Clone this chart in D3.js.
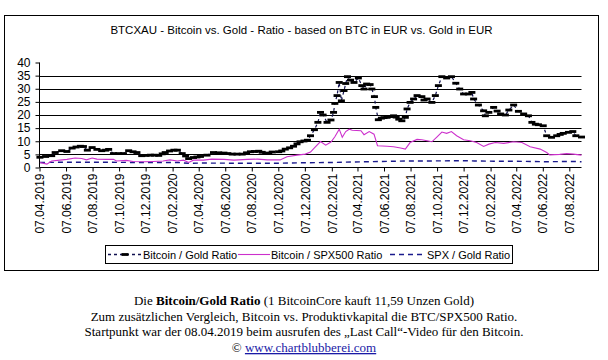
<!DOCTYPE html>
<html><head><meta charset="utf-8">
<script src="https://cdn.jsdelivr.net/npm/d3@7"></script>
<style>body{margin:0;background:#fff}svg{display:block}</style>
</head><body>
<script>
// ---------- DATA ----------
const titleText = "BTCXAU - Bitcoin vs. Gold - Ratio - based on BTC in EUR vs. Gold in EUR";
const seriesNames = ["Bitcoin / Gold Ratio", "Bitcoin / SPX500 Ratio", "SPX / Gold Ratio"];
const yTicks = [0, 5, 10, 15, 20, 25, 30, 35, 40];
const xTickLabels = ["07.04.2019","07.06.2019","07.08.2019","07.10.2019","07.12.2019","07.02.2020","07.04.2020","07.06.2020","07.08.2020","07.10.2020","07.12.2020","07.02.2021","07.04.2021","07.06.2021","07.08.2021","07.10.2021","07.12.2021","07.02.2022","07.04.2022","07.06.2022","07.08.2022"];

const btcGoldDates = ["2019-04-08","2019-04-21","2019-05-05","2019-05-13","2019-05-28","2019-06-09","2019-06-21","2019-06-30","2019-07-10","2019-07-17","2019-07-26","2019-08-06","2019-08-17","2019-08-28","2019-09-06","2019-09-13","2019-09-24","2019-10-06","2019-10-17","2019-10-29","2019-11-08","2019-11-17","2019-11-28","2019-12-08","2019-12-18","2019-12-27","2020-01-06","2020-01-14","2020-01-21","2020-01-31","2020-02-10","2020-02-18","2020-02-29","2020-03-08","2020-03-15","2020-03-26","2020-04-03","2020-04-11","2020-04-26","2020-05-11","2020-05-23","2020-06-04","2020-06-13","2020-06-23","2020-07-04","2020-07-16","2020-07-26","2020-08-04","2020-08-13","2020-08-23","2020-08-31","2020-09-08","2020-09-15","2020-09-23","2020-10-08","2020-10-15","2020-10-23","2020-11-02","2020-11-11","2020-11-19","2020-11-26","2020-12-05","2020-12-13","2020-12-20","2020-12-29","2021-01-06","2021-01-12","2021-01-18","2021-01-27","2021-02-05","2021-02-11","2021-02-14","2021-02-19","2021-02-24","2021-03-01","2021-03-07","2021-03-11","2021-03-15","2021-03-22","2021-03-30","2021-04-09","2021-04-17","2021-04-22","2021-04-28","2021-05-06","2021-05-10","2021-05-16","2021-05-19","2021-05-25","2021-06-01","2021-06-07","2021-06-14","2021-06-22","2021-06-29","2021-07-05","2021-07-11","2021-07-18","2021-07-26","2021-07-30","2021-08-06","2021-08-14","2021-08-22","2021-09-02","2021-09-07","2021-09-14","2021-09-25","2021-10-03","2021-10-10","2021-10-18","2021-10-29","2021-11-09","2021-11-19","2021-11-28","2021-12-07","2021-12-18","2021-12-26","2021-12-30","2022-01-10","2022-01-22","2022-01-26","2022-02-03","2022-02-14","2022-02-22","2022-03-02","2022-03-13","2022-03-21","2022-04-01","2022-04-12","2022-04-24","2022-05-05","2022-05-13","2022-05-21","2022-05-28","2022-06-08","2022-06-16","2022-06-27","2022-07-09","2022-07-17","2022-07-24","2022-08-05","2022-08-15","2022-08-22","2022-09-04"];
const btcGoldValues = [3.9,4.2,4.5,5.7,6.4,6.1,7.4,7.8,8.1,8.0,6.6,7.6,6.9,6.4,6.6,6.9,5.3,5.3,5.3,6.4,6.0,5.7,4.5,4.6,4.7,4.7,4.6,5.2,5.7,6.3,6.6,6.6,5.3,4.4,3.4,3.8,4.0,4.2,4.7,5.7,5.6,5.5,5.3,5.1,5.1,5.1,5.6,6.0,6.1,6.2,5.8,5.3,5.5,5.9,6.0,6.3,7.0,7.5,8.1,9.0,9.8,10.1,10.4,12.1,14.4,17.2,21.0,20.0,17.2,18.1,21.0,24.4,27.4,32.4,25.4,29.3,32.0,34.6,33.3,32.4,34.1,31.2,29.9,31.8,31.6,29.9,27.0,22.9,18.2,18.8,19.0,19.1,19.4,19.7,19.2,18.4,17.8,19.1,22.3,24.8,26.1,27.4,27.0,25.7,26.1,24.8,27.4,31.2,34.6,34.1,34.6,32.1,29.9,28.0,28.0,28.6,26.1,23.8,21.6,19.7,21.0,22.9,21.5,20.4,20.0,21.9,23.8,21.4,20.4,19.7,17.2,16.5,16.3,15.9,12.1,11.5,12.1,12.6,13.0,13.4,13.7,12.1,11.6];

const btcSpxDates = ["2019-04-08","2019-04-24","2019-05-05","2019-05-24","2019-06-09","2019-06-28","2019-07-13","2019-07-24","2019-08-06","2019-08-17","2019-09-09","2019-09-24","2019-10-01","2019-10-24","2019-11-08","2019-12-05","2019-12-24","2020-01-16","2020-02-01","2020-02-18","2020-03-03","2020-03-15","2020-03-26","2020-04-18","2020-05-07","2020-06-04","2020-06-27","2020-07-28","2020-08-20","2020-09-12","2020-10-11","2020-10-27","2020-11-19","2020-12-08","2020-12-20","2020-12-29","2021-01-12","2021-01-24","2021-02-05","2021-02-14","2021-02-24","2021-03-03","2021-03-11","2021-03-19","2021-03-26","2021-04-15","2021-04-22","2021-05-04","2021-05-15","2021-05-23","2021-06-14","2021-06-29","2021-07-15","2021-07-26","2021-08-06","2021-08-22","2021-09-02","2021-09-14","2021-09-25","2021-10-07","2021-10-18","2021-10-29","2021-11-09","2021-11-21","2021-12-07","2021-12-22","2022-01-06","2022-01-22","2022-02-03","2022-02-18","2022-03-09","2022-04-01","2022-04-20","2022-05-09","2022-06-01","2022-06-16","2022-06-23","2022-07-16","2022-08-01","2022-08-16","2022-09-04"];
const btcSpxValues = [1.9,1.3,2.5,2.8,3.1,3.6,3.4,2.9,3.6,3.2,3.1,3.1,2.5,2.7,2.3,2.2,2.3,2.5,2.9,2.5,2.8,1.9,2.8,2.8,3.2,3.1,2.8,3.1,3.2,2.9,2.9,4.1,4.7,5.1,5.9,7.5,9.9,8.5,9.7,11.7,14.6,11.5,13.7,14.6,14.2,14.0,12.5,13.7,12.7,8.3,8.1,7.9,7.4,7.0,9.5,10.7,10.6,10.2,9.8,11.7,13.5,13.0,13.7,12.1,10.6,10.2,9.5,8.0,8.9,9.5,9.2,9.8,9.5,7.9,7.0,5.7,4.8,5.0,5.3,5.1,4.7];

const spxGoldDates = ["2019-04-08","2019-06-01","2019-09-01","2019-12-01","2020-02-20","2020-03-15","2020-04-15","2020-08-01","2020-10-01","2020-12-01","2021-02-01","2021-04-01","2021-06-01","2021-08-01","2021-10-01","2021-12-01","2022-01-01","2022-02-15","2022-04-01","2022-06-15","2022-08-15","2022-09-04"];
const spxGoldValues = [1.9,2.0,2.0,1.9,1.9,1.6,1.7,1.6,1.6,1.8,1.9,2.1,2.3,2.5,2.5,2.6,2.5,2.4,2.4,2.2,2.3,2.2];

const captionLines = [
  [["Die ", false], ["Bitcoin/Gold Ratio", true], [" (1 BitcoinCore kauft 11,59 Unzen Gold)", false]],
  [["Zum zusätzlichen Vergleich, Bitcoin vs. Produktivkapital die BTC/SPX500 Ratio.", false]],
  [["Startpunkt war der 08.04.2019 beim ausrufen des \u201ELast Call\u201C-Video für den Bitcoin.", false]]
];
const copyrightLink = "www.chartblubberei.com";

// ---------- CHART ----------
const W = 608, H = 360;
const parse = d3.timeParse("%Y-%m-%d");
const parseTick = d3.timeParse("%d.%m.%Y");
const toPts = (ds, vs) => ds.map((d, i) => ({ date: parse(d), value: vs[i] }));
const sBtcGold = toPts(btcGoldDates, btcGoldValues);
const sBtcSpx = toPts(btcSpxDates, btcSpxValues);
const sSpxGold = toPts(spxGoldDates, spxGoldValues);

const svg = d3.select("body").append("svg").attr("width", W).attr("height", H)
  .style("font-family", "Arial, 'Liberation Sans', sans-serif");
svg.append("rect").attr("width", W).attr("height", H).attr("fill", "#fff");

// chart area frame
svg.append("rect").attr("x", 4.5).attr("y", 15.5).attr("width", 594).attr("height", 255)
  .attr("fill", "none").attr("stroke", "#000").attr("stroke-width", 1);

svg.append("text").attr("x", 301.5).attr("y", 34).attr("text-anchor", "middle")
  .attr("font-size", "11.5px").attr("fill", "#000").text(titleText);

const x = d3.scaleTime().domain([parse("2019-04-07"), parse("2022-09-04")]).range([39.5, 581.5]);
const y = d3.scaleLinear().domain([0, 40]).range([167.5, 62.5]);

// gridlines
svg.append("g").selectAll("line").data(yTicks.filter(v => v > 0 && v < 40)).join("line")
  .attr("x1", x.range()[0]).attr("x2", x.range()[1])
  .attr("y1", d => Math.round(y(d)) + 0.5).attr("y2", d => Math.round(y(d)) + 0.5)
  .attr("stroke", "#000").attr("stroke-width", 1);

// y axis
const yAxis = d3.axisLeft(y).tickValues(yTicks).tickSize(4).tickPadding(5).tickFormat(d3.format("d"));
const gy = svg.append("g").attr("transform", "translate(39.5,0)").call(yAxis);
gy.select(".domain").attr("d", `M0,${y(40)}V${y(0)}`);
gy.selectAll("text").attr("font-size", "12px").attr("font-family", "Arial, 'Liberation Sans', sans-serif").attr("fill", "#000");

// x axis
const xTickDates = xTickLabels.map(parseTick);
const xAxis = d3.axisBottom(x).tickValues(xTickDates).tickSize(4).tickFormat(d3.timeFormat("%d.%m.%Y"));
const gx = svg.append("g").attr("transform", `translate(0,${y(0)})`).call(xAxis);
gx.select(".domain").attr("d", `M${x.range()[0]},0H${x.range()[1]}`);
gx.selectAll("text").attr("font-size", "12px").attr("font-family", "Arial, 'Liberation Sans', sans-serif")
  .attr("fill", "#000").attr("text-anchor", "end")
  .attr("transform", "rotate(-90)").attr("x", -6).attr("y", 0).attr("dy", "0.35em");

const line = d3.line().x(d => x(d.date)).y(d => y(d.value));

// SPX / Gold (navy dashed)
svg.append("path").datum(sSpxGold).attr("d", line).attr("fill", "none")
  .attr("stroke", "#1a1a8c").attr("stroke-width", 1.4).attr("stroke-dasharray", "5,4");

// Bitcoin / SPX500 (magenta)
svg.append("path").datum(sBtcSpx).attr("d", line).attr("fill", "none")
  .attr("stroke", "#cc2fcc").attr("stroke-width", 1.1);

// Bitcoin / Gold (dotted navy connector + dash markers)
svg.append("path").datum(sBtcGold).attr("d", line).attr("fill", "none")
  .attr("stroke", "#101050").attr("stroke-width", 1.2).attr("stroke-dasharray", "3,3");
svg.append("g").selectAll("rect").data(sBtcGold).join("rect")
  .attr("x", d => x(d.date) - 3.5).attr("y", d => y(d.value) - 1.4)
  .attr("width", 7).attr("height", 2.8).attr("fill", "#000");

// legend
const lg = svg.append("g");
lg.append("rect").attr("x", 105.5).attr("y", 245.5).attr("width", 407).attr("height", 18)
  .attr("fill", "#fff").attr("stroke", "#000").attr("stroke-width", 1);
const ly = 254.5;
lg.append("line").attr("x1", 108).attr("x2", 142).attr("y1", ly).attr("y2", ly)
  .attr("stroke", "#101050").attr("stroke-width", 1.4).attr("stroke-dasharray", "3,3");
lg.append("rect").attr("x", 121.5).attr("y", ly - 1.4).attr("width", 7).attr("height", 2.8).attr("fill", "#000");
lg.append("line").attr("x1", 238).attr("x2", 270).attr("y1", ly).attr("y2", ly)
  .attr("stroke", "#cc2fcc").attr("stroke-width", 1.1);
lg.append("line").attr("x1", 390).attr("x2", 425).attr("y1", ly).attr("y2", ly)
  .attr("stroke", "#1a1a8c").attr("stroke-width", 1.4).attr("stroke-dasharray", "5,4");
const legX = [143, 271, 427];
lg.selectAll("text.lt").data(seriesNames).join("text").attr("class", "lt")
  .attr("x", (d, i) => legX[i]).attr("y", ly + 4).attr("font-size", "11px").attr("fill", "#000")
  .text(d => d);

// caption below
const cap = svg.append("g").style("font-family", "'Liberation Serif', 'Times New Roman', serif")
  .attr("font-size", "13px").attr("fill", "#000");
const capY = [305, 320.5, 336];
captionLines.forEach((parts, i) => {
  const t = cap.append("text").attr("x", 304).attr("y", capY[i]).attr("text-anchor", "middle");
  parts.forEach(p => t.append("tspan").attr("font-weight", p[1] ? "bold" : "normal").text(p[0]));
});
const ct = cap.append("text").attr("x", 304).attr("y", 352).attr("text-anchor", "middle");
ct.append("tspan").text("\u00A9 ");
ct.append("tspan").attr("fill", "#1a1aa6").attr("text-decoration", "underline").text(copyrightLink);
</script>
</body></html>
